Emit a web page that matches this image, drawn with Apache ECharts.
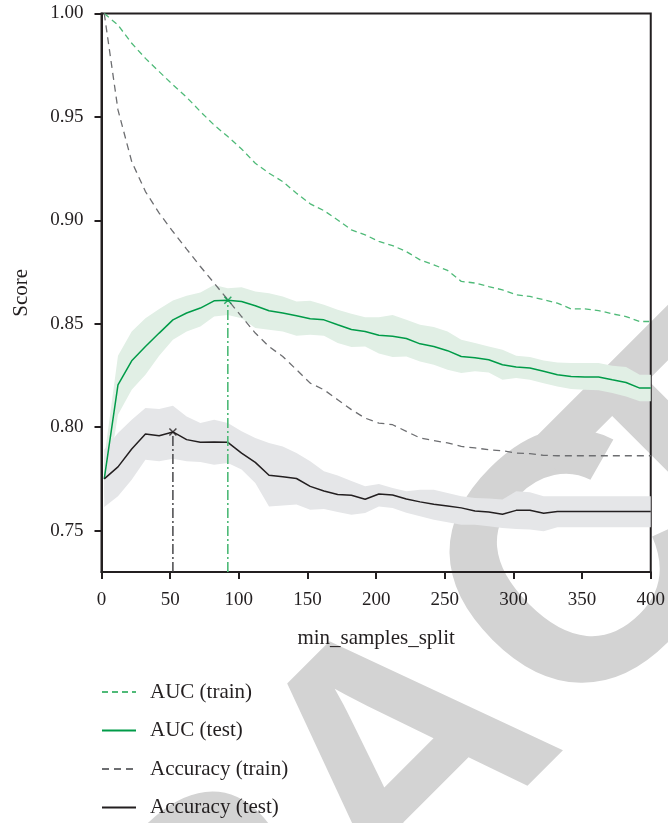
<!DOCTYPE html>
<html>
<head>
<meta charset="utf-8">
<script src="https://cdn.jsdelivr.net/npm/echarts@6/dist/echarts.min.js"></script>
<style>html,body{margin:0;padding:0;background:#fff}#c{width:668px;height:823px}</style>
</head>
<body>
<div id="c"></div>
<script>
var xs = [2,12,22,32,42,52,62,72,82,92,102,112,122,132,142,152,162,172,182,192,202,212,222,232,242,252,262,272,282,292,302,312,322,332,342,352,362,372,382,392,400];
var aucTrain = [1.000,0.9944,0.9856,0.9783,0.9719,0.9655,0.9595,0.9526,0.9461,0.9405,0.9345,0.9276,0.9228,0.9187,0.9131,0.9080,0.9047,0.9002,0.8954,0.8930,0.8898,0.8878,0.8849,0.8809,0.8785,0.8758,0.8705,0.8697,0.8680,0.8664,0.8640,0.8632,0.8616,0.8600,0.8572,0.8572,0.8564,0.8548,0.8535,0.8511,0.8511];
var aucTest = [0.775,0.8205,0.8321,0.8390,0.8455,0.8519,0.8552,0.8576,0.8611,0.8614,0.8608,0.8587,0.8563,0.8552,0.8539,0.8524,0.8519,0.8495,0.8472,0.8463,0.8445,0.8440,0.8429,0.8403,0.8390,0.8370,0.8342,0.8336,0.8326,0.8302,0.8291,0.8286,0.8270,0.8254,0.8245,0.8243,0.8243,0.8229,0.8216,0.8189,0.8189];
var aucTestUpper = [0.785,0.8345,0.8463,0.8527,0.8571,0.8613,0.8635,0.8651,0.8688,0.8672,0.8677,0.8656,0.8648,0.8632,0.8608,0.8611,0.8592,0.8568,0.8548,0.8531,0.8531,0.8543,0.8519,0.8495,0.8484,0.8463,0.8423,0.8407,0.8390,0.8374,0.8345,0.8339,0.8323,0.8313,0.8310,0.8310,0.8310,0.8297,0.8291,0.8254,0.8254];
var aucTestLower = [0.765,0.8060,0.8181,0.8254,0.8345,0.8423,0.8463,0.8487,0.8535,0.8543,0.8527,0.8479,0.8471,0.8463,0.8442,0.8447,0.8442,0.8407,0.8388,0.8390,0.8356,0.8339,0.8342,0.8318,0.8302,0.8278,0.8262,0.8270,0.8265,0.8229,0.8238,0.8229,0.8213,0.8197,0.8185,0.8181,0.8179,0.8165,0.8149,0.8125,0.8125];
var accTrain = [1.000,0.9534,0.9284,0.9139,0.9035,0.8946,0.8861,0.8777,0.8697,0.8616,0.8535,0.8455,0.8390,0.8342,0.8278,0.8213,0.8181,0.8133,0.8085,0.8044,0.8020,0.8012,0.7980,0.7948,0.7935,0.7924,0.7907,0.7900,0.7891,0.7886,0.7875,0.7872,0.7864,0.7862,0.7862,0.7862,0.7862,0.7862,0.7862,0.7862,0.7862];
var accTest = [0.775,0.7808,0.7895,0.7967,0.7959,0.7977,0.7940,0.7927,0.7928,0.7927,0.7875,0.7830,0.7768,0.7760,0.7752,0.7714,0.7692,0.7675,0.7671,0.7652,0.7677,0.7672,0.7653,0.7639,0.7627,0.7619,0.7610,0.7595,0.7590,0.7579,0.7598,0.7598,0.7584,0.7593,0.7593,0.7593,0.7593,0.7593,0.7593,0.7593,0.7593];
var accTestUpper = [0.7891,0.7972,0.8036,0.8093,0.8088,0.8104,0.8052,0.8020,0.8036,0.8020,0.7980,0.7948,0.7924,0.7907,0.7875,0.7835,0.7787,0.7766,0.7740,0.7714,0.7725,0.7706,0.7690,0.7698,0.7698,0.7682,0.7666,0.7658,0.7655,0.7650,0.7690,0.7685,0.7666,0.7666,0.7666,0.7666,0.7666,0.7666,0.7666,0.7666,0.7666];
var accTestLower = [0.7614,0.7666,0.7746,0.7843,0.7835,0.7848,0.7835,0.7832,0.7819,0.7827,0.7795,0.7730,0.7617,0.7621,0.7626,0.7601,0.7605,0.7590,0.7577,0.7585,0.7617,0.7610,0.7586,0.7569,0.7553,0.7540,0.7529,0.7529,0.7521,0.7513,0.7508,0.7505,0.7497,0.7516,0.7516,0.7516,0.7516,0.7516,0.7516,0.7516,0.7516];
var bestAuc = [92, 0.8614];
var bestAcc = [52, 0.7977];
var yTicks = [0.75, 0.80, 0.85, 0.90, 0.95, 1.00];
var legendNames = ['AUC (train)', 'AUC (test)', 'Accuracy (train)', 'Accuracy (test)'];
var watermark = [['R', 235, 941], ['A', 411, 765], ['C', 590, 578], ['T', 705, 473], ['R', 880, 300]];

function pairs(a) { return xs.map(function (x, i) { return [x, a[i]]; }); }

var SERIF = '"Liberation Serif", "Times New Roman", serif';
var INK = '#231f20';
var GREEN = '#009b48', LGREEN = '#4fba78', GRAY = '#6d6e71';

function band(name, upper, lower, color) {
  return {
    name: name, type: 'custom', clip: true, silent: true, z: 1,
    data: xs.map(function (x, i) { return [x, lower[i], upper[i]]; }),
    encode: { x: 0, y: [1, 2] },
    renderItem: function (params, api) {
      if (params.dataIndex !== 0) return null;
      var pts = [];
      for (var i = 0; i < xs.length; i++) pts.push(api.coord([xs[i], upper[i]]));
      for (var j = xs.length - 1; j >= 0; j--) pts.push(api.coord([xs[j], lower[j]]));
      return { type: 'polygon', shape: { points: pts }, style: { fill: color } };
    }
  };
}

var chart = echarts.init(document.getElementById('c'), null, { renderer: 'canvas' });
var wm = watermark.map(function (w) {
  return {
    type: 'text', x: w[1], y: w[2], rotation: Math.PI / 4, z: -10, silent: true,
    style: { text: w[0], font: 'bold 352px "Liberation Sans", Arial, sans-serif', fill: '#d3d3d3',
      align: 'center', verticalAlign: 'middle', textAlign: 'center', textVerticalAlign: 'middle' }
  };
});

chart.setOption({
  animation: false,
  backgroundColor: '#fff',
  graphic: { elements: wm },
  grid: { left: 101.5, right: 16, top: 13.5, bottom: 251, show: true, borderColor: INK, borderWidth: 2, backgroundColor: 'transparent', containLabel: false },
  legend: {
    data: legendNames, orient: 'vertical', left: 101, top: 681.5, padding: 0,
    itemWidth: 34, itemHeight: 14, itemGap: 17.5,
    itemStyle: { opacity: 0 },
    textStyle: { fontFamily: SERIF, fontSize: 21, color: INK, lineHeight: 20, padding: [0, 0, 0, 9] }
  },
  xAxis: {
    type: 'value', min: 0, max: 400, interval: 50,
    name: 'min_samples_split', nameLocation: 'middle', nameGap: 56,
    nameTextStyle: { fontFamily: SERIF, fontSize: 21, color: INK },
    axisLine: { show: true, lineStyle: { color: INK, width: 2 } },
    axisTick: { show: true, length: 7, lineStyle: { color: INK, width: 2 } },
    axisLabel: { fontFamily: SERIF, fontSize: 19, color: INK, margin: 19, showMinLabel: true, showMaxLabel: true },
    splitLine: { show: false }
  },
  yAxis: {
    type: 'value', min: 0.73, max: 1.0,
    name: 'Score', nameLocation: 'middle', nameGap: 70,
    nameTextStyle: { fontFamily: SERIF, fontSize: 21, color: INK },
    axisLine: { show: true, lineStyle: { color: INK, width: 2 } },
    axisTick: { show: true, length: 7, lineStyle: { color: INK, width: 2 }, customValues: yTicks },
    axisLabel: { fontFamily: SERIF, fontSize: 19, color: INK, margin: 18, customValues: yTicks,
      formatter: function (v) { return v.toFixed(2); } },
    splitLine: { show: false }
  },
  series: [
    band('aucBand', aucTestUpper, aucTestLower, '#e1efe5'),
    band('accBand', accTestUpper, accTestLower, '#e5e6e8'),
    { name: 'AUC (train)', type: 'line', data: pairs(aucTrain), symbol: 'none', lineStyle: { color: LGREEN, width: 1.3, type: [6, 4] }, itemStyle: { color: LGREEN } },
    { name: 'AUC (test)', type: 'line', data: pairs(aucTest), symbol: 'none', lineStyle: { color: GREEN, width: 1.5 }, itemStyle: { color: GREEN } },
    { name: 'Accuracy (train)', type: 'line', data: pairs(accTrain), symbol: 'none', lineStyle: { color: GRAY, width: 1.3, type: [7, 5] }, itemStyle: { color: GRAY } },
    { name: 'Accuracy (test)', type: 'line', data: pairs(accTest), symbol: 'none', lineStyle: { color: INK, width: 1.5 }, itemStyle: { color: INK } },
    { name: 'aucBestLine', type: 'line', data: [[bestAuc[0], 0.73], bestAuc], symbol: 'none', lineStyle: { color: LGREEN, width: 1.6, type: [10, 3, 2, 3] } },
    { name: 'accBestLine', type: 'line', data: [[bestAcc[0], 0.73], bestAcc], symbol: 'none', lineStyle: { color: '#3a3a3c', width: 1.4, type: [10, 3, 2, 3] } },
    { name: 'aucBest', type: 'scatter', data: [bestAuc], symbol: 'path://M0,0L10,10M10,0L0,10', symbolSize: 7, itemStyle: { color: 'none', borderColor: GREEN, borderWidth: 1.5 }, z: 5 },
    { name: 'accBest', type: 'scatter', data: [bestAcc], symbol: 'path://M0,0L10,10M10,0L0,10', symbolSize: 7, itemStyle: { color: 'none', borderColor: INK, borderWidth: 1.5 }, z: 5 }
  ]
});
</script>
</body>
</html>
